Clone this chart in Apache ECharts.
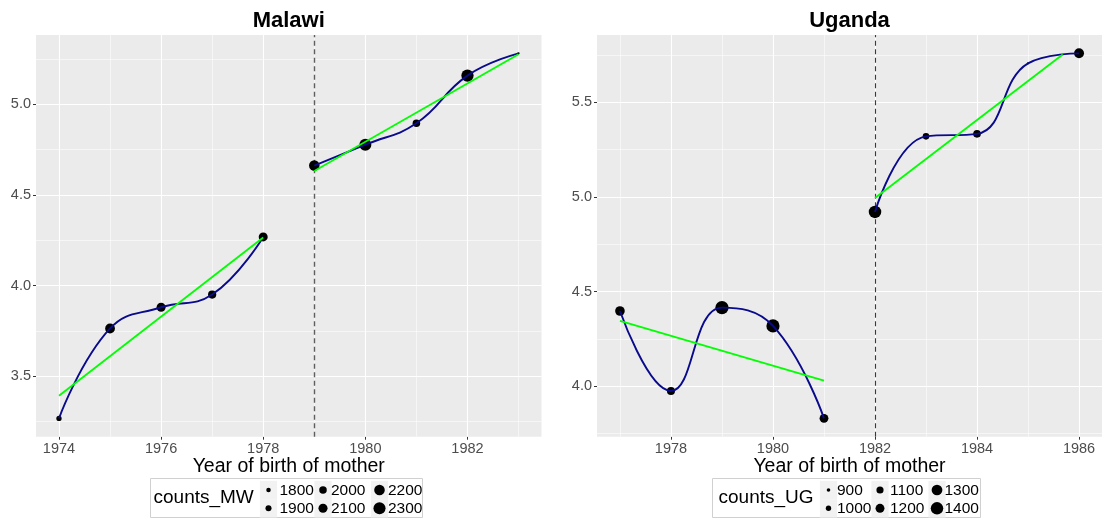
<!DOCTYPE html>
<html>
<head>
<meta charset="utf-8">
<title>Birth cohorts: Malawi and Uganda</title>
<script src="https://cdn.jsdelivr.net/npm/echarts@6/dist/echarts.min.js"></script>
<style>
  html, body { margin: 0; padding: 0; background: #ffffff; }
  #chart { width: 1102px; height: 525px; }
</style>
</head>
<body>
<div id="chart"></div>
<script>
// ---- Malawi ----
const years_MW = [1974, 1975, 1976, 1977, 1978, 1979, 1980, 1981, 1982, 1983];
const values_MW = [3.267, 3.763, 3.880, 3.950, 4.268, 4.662, 4.777, 4.895, 5.158, 5.281];
const counts_MW = [1852, 2148, 2096, 2044, 2096, 2193, 2296, 2000, 2310, 1652];
const cutoff_MW = 1979;
const fitPre_MW = [[1974, 3.392], [1978, 4.265]];
const fitPost_MW = [[1979, 4.632], [1983, 5.276]];
const xTicks_MW = [1974, 1976, 1978, 1980, 1982];
const yTicks_MW = [3.5, 4.0, 4.5, 5.0];
const legendBreaks_MW = [1800, 1900, 2000, 2100, 2200, 2300];

// ---- Uganda ----
const years_UG = [1977, 1978, 1979, 1980, 1981, 1982, 1983, 1984, 1985, 1986];
const values_UG = [4.397, 3.974, 4.415, 4.318, 3.829, 4.921, 5.321, 5.334, 5.707, 5.760];
const counts_UG = [1237, 1150, 1444, 1440, 1194, 1400, 1069, 1131, 819, 1256];
const cutoff_UG = 1982;
const fitPre_UG = [[1977, 4.345], [1981, 4.029]];
const fitPost_UG = [[1982, 4.995], [1985.68, 5.754]];
const xTicks_UG = [1978, 1980, 1982, 1984, 1986];
const yTicks_UG = [4.0, 4.5, 5.0, 5.5];
const legendBreaks_UG = [900, 1000, 1100, 1200, 1300, 1400];

const xTitle = 'Year of birth of mother';

// point diameter (px) from cohort count
const sizeMW = v => Math.max(1.8, 4.5 + (v - 1800) * 0.0152);
const sizeUG = v => Math.max(1.8, 3.6 + (v - 900) * 0.0178);

const FONT = '"Liberation Sans", Arial, Helvetica, sans-serif';
const W = 1102;

const panels = [
  {
    title: 'Malawi', years: years_MW, values: values_MW, counts: counts_MW, cutoff: cutoff_MW,
    fitPre: fitPre_MW, fitPost: fitPost_MW, xTicks: xTicks_MW, yTicks: yTicks_MW,
    xMin: 1973.55, xMax: 1983.45, yMin: 3.166, yMax: 5.382, size: sizeMW,
    grid: { left: 36, right: 560.5, top: 35, bottom: 88.3 },
    dash: { color: '#5e5e5e', width: 1.4 },
    legend: { name: 'counts_MW', breaks: legendBreaks_MW, box: [150, 478, 272, 39], titleX: 153.5,
              keyX: [268.5, 323, 379.5], labelX: [279.5, 331, 388] }
  },
  {
    title: 'Uganda', years: years_UG, values: values_UG, counts: counts_UG, cutoff: cutoff_UG,
    fitPre: fitPre_UG, fitPost: fitPost_UG, xTicks: xTicks_UG, yTicks: yTicks_UG,
    xMin: 1976.55, xMax: 1986.45, yMin: 3.732, yMax: 5.857, size: sizeUG,
    grid: { left: 597, right: 0, top: 35, bottom: 88.3 },
    dash: { color: '#3a3a3a', width: 1.1 },
    legend: { name: 'counts_UG', breaks: legendBreaks_UG, box: [712, 478, 268, 39], titleX: 718.5,
              keyX: [828.5, 880, 937], labelX: [837, 890, 944.5] }
  }
];

function minorValues(ticks, lo, hi) {
  const step = ticks[1] - ticks[0];
  const out = [];
  for (let v = ticks[0] - step / 2; v <= hi; v += step) {
    if (v >= lo) out.push(+v.toFixed(4));
  }
  return out;
}

const grids = [], xAxes = [], yAxes = [], series = [], graphics = [];

panels.forEach((p, i) => {
  grids.push(Object.assign({ show: true, backgroundColor: '#EBEBEB', borderWidth: 0 }, p.grid));

  xAxes.push({
    type: 'value', gridIndex: i, min: p.xMin, max: p.xMax,
    axisLine: { show: false },
    axisTick: { show: true, length: 3, lineStyle: { color: '#333333', width: 1 }, customValues: p.xTicks },
    axisLabel: { customValues: p.xTicks, color: '#4D4D4D', fontSize: 14.5, fontFamily: FONT, margin: 5,
                 formatter: v => String(Math.round(v)) },
    splitLine: { show: false }
  });
  yAxes.push({
    type: 'value', gridIndex: i, min: p.yMin, max: p.yMax,
    axisLine: { show: false },
    axisTick: { show: true, length: 3, lineStyle: { color: '#333333', width: 1 }, customValues: p.yTicks },
    axisLabel: { customValues: p.yTicks, color: '#4D4D4D', fontSize: 14.5, fontFamily: FONT, margin: 5,
                 formatter: v => Number(v).toFixed(1) },
    splitLine: { show: false }
  });

  // panel grid lines (major and minor)
  const gridLines = [];
  p.xTicks.forEach(v => gridLines.push({ xAxis: v, lineStyle: { width: 1.1 } }));
  minorValues(p.xTicks, p.xMin, p.xMax).forEach(v => gridLines.push({ xAxis: v, lineStyle: { width: 0.55 } }));
  p.yTicks.forEach(v => gridLines.push({ yAxis: v, lineStyle: { width: 1.1 } }));
  minorValues(p.yTicks, p.yMin, p.yMax).forEach(v => gridLines.push({ yAxis: v, lineStyle: { width: 0.55 } }));
  series.push({
    type: 'line', xAxisIndex: i, yAxisIndex: i, data: [], silent: true, z: 1,
    markLine: { z: 1, silent: true, symbol: ['none', 'none'], label: { show: false },
                lineStyle: { color: '#FFFFFF', type: 'solid' }, data: gridLines }
  });

  // cutoff year
  series.push({
    type: 'line', xAxisIndex: i, yAxisIndex: i, data: [], silent: true, z: 2,
    markLine: { z: 2, silent: true, symbol: ['none', 'none'], label: { show: false },
                lineStyle: { color: p.dash.color, width: p.dash.width, type: [5, 3.5] },
                data: [{ xAxis: p.cutoff }] }
  });

  // cohort means, sized by counts
  const pts = p.years.map((y, k) => [y, p.values[k], p.counts[k]]);
  series.push({
    type: 'scatter', xAxisIndex: i, yAxisIndex: i, z: 3,
    data: pts, symbolSize: d => p.size(d[2]),
    itemStyle: { color: '#000000', opacity: 1 }
  });

  // smooth curves before and after the cutoff
  const pre = p.years.map((y, k) => [y, p.values[k]]).filter(d => d[0] < p.cutoff);
  const post = p.years.map((y, k) => [y, p.values[k]]).filter(d => d[0] >= p.cutoff);
  [pre, post].forEach(seg => series.push({
    type: 'line', xAxisIndex: i, yAxisIndex: i, z: 4, data: seg, smooth: 0.45,
    showSymbol: false, lineStyle: { color: '#0A0A8C', width: 1.9 }
  }));

  // linear fits
  [p.fitPre, p.fitPost].forEach(seg => series.push({
    type: 'line', xAxisIndex: i, yAxisIndex: i, z: 5, data: seg,
    showSymbol: false, lineStyle: { color: '#00FF00', width: 1.8 }
  }));

  // panel title and x-axis title
  const cx = p.grid.left + (W - p.grid.left - p.grid.right) / 2;
  graphics.push({
    type: 'text', x: cx, y: 21,
    style: { text: p.title, fill: '#000000', font: 'bold 22px ' + FONT, textAlign: 'center', textVerticalAlign: 'middle' }
  });
  graphics.push({
    type: 'text', x: cx, y: 467,
    style: { text: xTitle, fill: '#000000', font: '19.5px ' + FONT, textAlign: 'center', textVerticalAlign: 'middle' }
  });

  // size legend
  const L = p.legend;
  graphics.push({
    type: 'rect', shape: { x: L.box[0] + 0.5, y: L.box[1] + 0.5, width: L.box[2], height: L.box[3] },
    style: { fill: '#FFFFFF', stroke: '#D0D0D0', lineWidth: 1 }
  });
  graphics.push({
    type: 'text', x: L.titleX, y: L.box[1] + L.box[3] / 2 + 0.5,
    style: { text: L.name, fill: '#000000', font: '19px ' + FONT, textAlign: 'left', textVerticalAlign: 'middle' }
  });
  const rowY = [L.box[1] + 12, L.box[1] + 30.3];
  L.breaks.forEach((b, k) => {
    const col = Math.floor(k / 2), row = k % 2;
    graphics.push({
      type: 'rect', shape: { x: L.keyX[col] - 8.6, y: rowY[row] - 9.15, width: 17.2, height: 18.3 },
      style: { fill: '#F2F2F2', stroke: null }
    });
    graphics.push({
      type: 'circle', shape: { cx: L.keyX[col], cy: rowY[row], r: p.size(b) / 2 },
      style: { fill: '#000000' }
    });
    graphics.push({
      type: 'text', x: L.labelX[col], y: rowY[row] + 0.5,
      style: { text: String(b), fill: '#000000', font: '15.5px ' + FONT, textAlign: 'left', textVerticalAlign: 'middle' }
    });
  });
});

const chart = echarts.init(document.getElementById('chart'), null, { renderer: 'canvas' });
chart.setOption({
  animation: false,
  backgroundColor: '#FFFFFF',
  grid: grids,
  xAxis: xAxes,
  yAxis: yAxes,
  series: series,
  graphic: { elements: graphics }
});
</script>
</body>
</html>
